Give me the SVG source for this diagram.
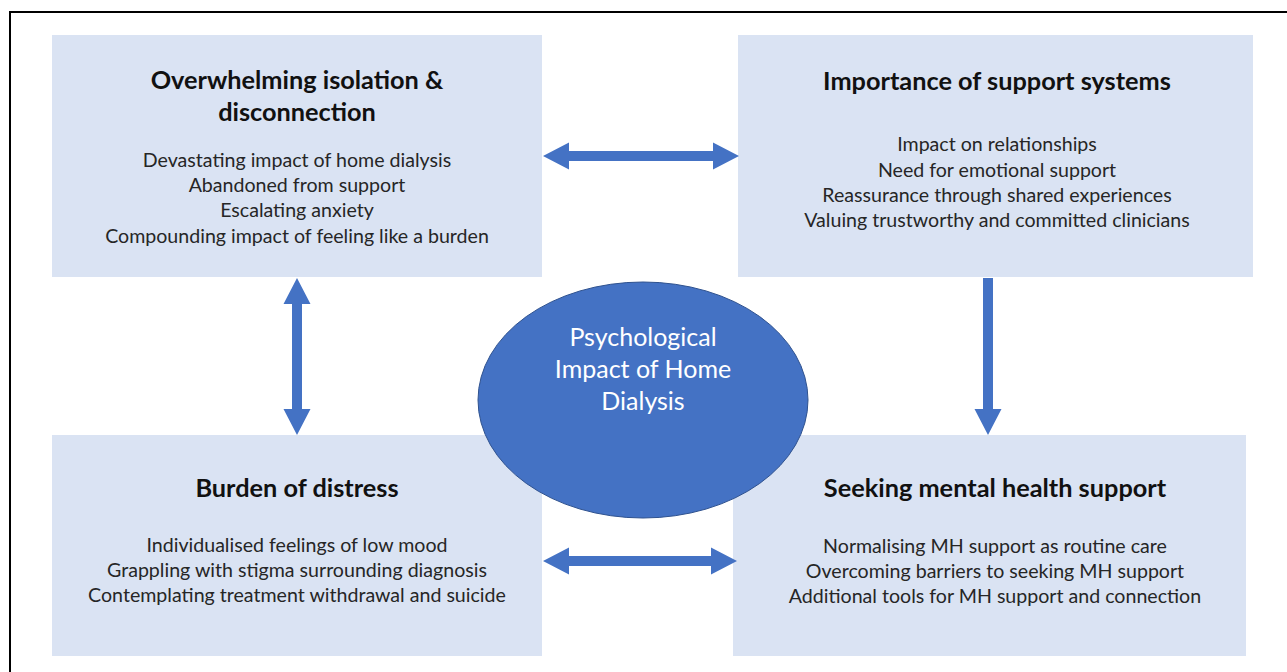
<svg xmlns="http://www.w3.org/2000/svg" width="1287" height="672" viewBox="0 0 1287 672">
  <style>
    .box { fill: #dae3f3; }
    .title { font-family: Lato, "Liberation Sans", sans-serif; font-weight: bold; font-size: 25.3px; fill: #111111; text-anchor: middle; }
    .item { font-family: Lato, "Liberation Sans", sans-serif; font-size: 19.6px; fill: #262626; text-anchor: middle; }
    .hub-text { font-family: Lato, "Liberation Sans", sans-serif; font-size: 25px; fill: #ffffff; text-anchor: middle; }
    .arrow { fill: #4472c4; }
  </style>

  <rect width="1287" height="672" fill="#ffffff"/>
  <!-- frame -->
  <path d="M10,672 V12 H1287" fill="none" stroke="#000000" stroke-width="2"/>

  <g id="isolation">
    <rect class="box" x="52" y="35" width="490" height="242"/>
    <text class="title" x="297" y="89">Overwhelming isolation &amp;</text>
    <text class="title" x="297" y="121">disconnection</text>
    <text class="item" x="297" y="167">Devastating impact of home dialysis</text>
    <text class="item" x="297" y="192">Abandoned from support</text>
    <text class="item" x="297" y="217">Escalating anxiety</text>
    <text class="item" x="297" y="243">Compounding impact of feeling like a burden</text>
  </g>

  <g id="support-systems">
    <rect class="box" x="738" y="35" width="515" height="242"/>
    <text class="title" x="997" y="90">Importance of support systems</text>
    <text class="item" x="997" y="151">Impact on relationships</text>
    <text class="item" x="997" y="177">Need for emotional support</text>
    <text class="item" x="997" y="202">Reassurance through shared experiences</text>
    <text class="item" x="997" y="227">Valuing trustworthy and committed clinicians</text>
  </g>

  <g id="distress">
    <rect class="box" x="52" y="435" width="490" height="221"/>
    <text class="title" x="297" y="497">Burden of distress</text>
    <text class="item" x="297" y="552">Individualised feelings of low mood</text>
    <text class="item" x="297" y="577">Grappling with stigma surrounding diagnosis</text>
    <text class="item" x="297" y="602">Contemplating treatment withdrawal and suicide</text>
  </g>

  <g id="mental-health">
    <rect class="box" x="733" y="435" width="513" height="221"/>
    <text class="title" x="995" y="497">Seeking mental health support</text>
    <text class="item" x="995" y="553">Normalising MH support as routine care</text>
    <text class="item" x="995" y="578">Overcoming barriers to seeking MH support</text>
    <text class="item" x="995" y="603">Additional tools for MH support and connection</text>
  </g>

  <g id="hub">
    <ellipse cx="643" cy="400" rx="165" ry="118" fill="#4472c4" stroke="#2f528f" stroke-width="1"/>
    <text class="hub-text" x="643" y="346">Psychological</text>
    <text class="hub-text" x="643" y="378">Impact of Home</text>
    <text class="hub-text" x="643" y="410">Dialysis</text>
  </g>

  <g id="connectors">
    <!-- isolation <-> support systems -->
    <polygon class="arrow" points="543,156 569,142.5 569,151 713,151 713,142.5 739,156 713,169.5 713,161 569,161 569,169.5"/>
    <!-- distress <-> mental health -->
    <polygon class="arrow" points="543,561 569,547.5 569,556 711,556 711,547.5 737,561 711,574.5 711,566 569,566 569,574.5"/>
    <!-- isolation <-> distress -->
    <polygon class="arrow" points="297,278 310.5,304 302,304 302,409 310.5,409 297,435 283.5,409 292,409 292,304 283.5,304"/>
    <!-- support systems -> mental health -->
    <polygon class="arrow" points="983,278 993,278 993,409 1001.5,409 988,435 974.5,409 983,409"/>
  </g>
</svg>
